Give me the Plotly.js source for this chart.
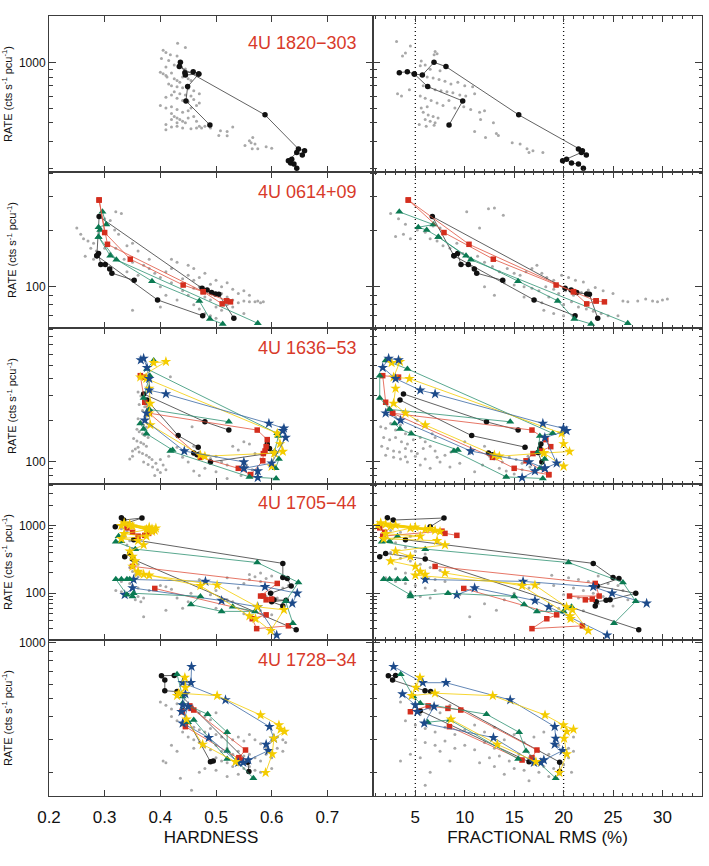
<!DOCTYPE html>
<html><head><meta charset="utf-8">
<script src="https://cdn.plot.ly/plotly-3.0.1.min.js"></script>
<style>body{margin:0;background:#fff}#chart{width:709px;height:866px}</style>
</head><body><div id="chart"></div>
<script>
// ---------- labels ----------
const SOURCES = ['4U 1820\u2212303', '4U 0614+09', '4U 1636\u221253', '4U 1705\u221244', '4U 1728\u221234'];
const HARD_TICKS = [0.2, 0.3, 0.4, 0.5, 0.6, 0.7];
const RMS_TICKS = [5, 10, 15, 20, 25, 30];
const RATE_TICKS = [100, 1000];
const RATE_TICKTEXT = ['100', '1000'];
const RATE_MINOR = [20,30,40,50,60,70,80,90,200,300,400,500,600,700,800,900,2000,3000,4000];
const RMS_MARKS = [5, 20];

// ---------- 4U 1820-303 ----------
const s1_blk_rate = [855,868,838,825,1000,937,451,269,262,245,255,225,230,217,214,201,null,838,692,557,387];
const s1_blk_hard = [0.444,0.459,0.469,0.445,0.436,0.434,0.588,0.648,0.659,0.655,0.645,0.630,0.636,0.634,0.640,0.645,null,0.469,0.449,0.446,0.489];
const s1_blk_rms  = [3.38,4.19,4.90,5.71,6.89,8.10,15.46,21.50,21.9,22.3,21.8,19.9,20.3,20.8,21.5,22.0,null,4.90,6.25,9.79,8.41];
const s1_gry_hard = [0.431,0.445,0.405,0.41,0.418,0.43,0.402,0.415,0.437,0.425,0.41,0.445,
 0.40,0.405,0.41,0.412,0.42,0.425,0.43,0.435,0.44,0.45,0.455,0.415,0.42,0.43,0.44,0.45,0.46,0.425,0.435,0.445,0.455,0.41,0.42,0.43,0.44,0.45,0.46,0.47,
 0.40,0.41,0.42,0.43,0.44,0.45,0.455,0.465,0.47,0.42,0.425,0.43,0.435,0.44,0.445,0.42,0.43,0.45,0.46,0.465,0.47,0.41,0.42,0.43,0.44,0.455,0.465,0.48,0.41,
 0.474,0.49,0.508,0.52,0.53,0.56,0.563,0.57,0.552,0.566,0.575,0.59,0.60,0.565,0.505,0.52];
const s1_gry_hrate = [1333,1250,1200,1160,1120,1100,1060,1030,1010,960,930,905,
 860,840,820,800,850,780,760,740,800,780,760,720,700,690,680,670,650,640,620,610,600,590,610,580,560,550,570,620,
 520,500,510,490,470,480,500,520,540,460,440,430,420,410,400,420,400,430,440,410,380,390,375,380,370,365,370,380,360,
 370,370,355,350,375,305,295,290,283,320,270,278,272,270,330,328];
const s1_gry_rms = [3.1,4.5,3.7,4.0,5.6,6.9,7.0,7.2,5.5,6.0,6.5,7.5,4.9,5.6,6.2,6.8,7.4,8.0,8.6,9.3,10.0,10.8,5.8,6.4,7.0,7.6,8.2,8.8,9.5,10.1,11.0,5.5,6.0,6.6,7.2,7.8,8.4,9.0,9.9,10.6,11.5,12.0,3.2,3.6,4.4,5.8,6.3,6.8,7.3,6.0,6.5,7.0,5.6,6.2,5.4,6.1,6.9,11.6,12.9,11.0,13.2,14.8,15.6,16.3,16.9,16.5,17.9,13.4,12.1];
const s1_gry_rrate = [1370,1280,1100,1150,1020,1120,1180,1140,950,960,900,880,850,820,800,790,770,750,720,740,700,690,700,680,660,650,640,630,610,600,620,600,580,560,540,520,560,500,510,490,470,480,620,600,660,470,450,440,430,420,410,400,500,510,390,380,385,420,400,350,340,295,290,270,262,255,255,330,320];

// ---------- 4U 0614+09 ----------
const s2_red_rate = [289,194,140,102,94,84,83,null,289,168,94,81,84];
const s2_red_hard = [0.290,0.300,0.346,0.441,0.477,0.519,0.526,null,0.290,0.305,0.477,0.511,0.519];
const s2_red_rms  = [4.29,7.90,12.89,19.24,21.0,23.29,24.13,null,4.29,10.43,21.0,22.34,23.29];
const s2_grn_rate = [250,214,207,200,184,146,107,84,67.3,63.3,null,184,139,63.8];
const s2_grn_hard = [0.296,0.303,0.289,0.292,0.289,0.310,0.385,0.470,0.489,0.512,null,0.289,0.321,0.575];
const s2_grn_rms  = [3.38,6.82,5.30,6.15,7.33,10.13,15.39,19.41,21.09,22.78,null,7.33,10.63,26.49];
const s2_blk_rate = [70,85,146,150,131,131,124,118,108,null,146,236,98,96,93,91.5,91,68];
const s2_blk_hard = [0.476,0.395,0.286,0.289,0.293,0.301,0.309,0.313,0.353,null,0.286,0.290,0.475,0.484,0.492,0.499,0.505,0.532];
const s2_blk_rms  = [21.16,17.01,8.91,9.28,9.62,10.36,10.97,11.21,13.84,null,8.91,6.72,20.15,20.76,21.33,22.34,22.61,23.45];
const s2_gry_hard = [0.25,0.257,0.262,0.27,0.28,0.29,0.30,0.31,0.32,0.33,0.318,0.325,0.275,0.285,0.30,0.31,0.265,0.28,0.32,0.34,
 0.35,0.36,0.335,0.35,0.37,0.34,0.36,0.38,0.39,0.40,0.41,0.42,0.43,0.40,0.42,0.44,0.45,0.46,0.47,0.48,
 0.46,0.44,0.45,0.46,0.47,0.48,0.49,0.50,0.51,0.52,0.53,0.48,0.49,0.50,0.51,0.52,0.53,0.54,0.55,0.56,
 0.50,0.51,0.52,0.53,0.54,0.55,0.56,0.57,0.575,0.58,0.585,0.46,0.47,0.48,0.49,0.50,0.55,0.43,0.41,0.35,
 0.40,0.45,0.42,0.38];
const s2_gry_hrate = [205,190,180,175,170,240,230,225,250,245,200,190,160,155,160,150,145,140,160,165,
 170,155,140,135,130,120,115,125,118,112,120,140,135,100,105,110,115,108,112,118,
 125,95,90,98,100,95,103,108,100,105,97,88,85,90,92,88,85,92,95,90,
 78,75,80,78,82,84,83,83,84,82,83,80,76,72,70,68,72,85,90,75,
 78,130,125,140];
const s2_gry_rms = [2.5,3.3,4.0,3.0,3.8,4.5,5.2,6.0,6.8,7.5,6.5,7.2,7.8,8.5,9.2,10.2,12.4,13.0,13.9,11.5,
 9.8,10.5,11.3,12.0,12.8,13.5,14.3,15.0,15.6,16.2,16.8,17.3,17.8,18.3,19.0,19.8,20.5,21.2,22.0,14.0,
 15.0,16.0,16.8,17.5,18.2,19.0,19.5,20.2,21.0,21.8,22.5,23.2,24.0,25.0,16.0,17.0,17.8,18.5,19.3,20.0,
 20.8,21.5,22.3,23.0,23.8,24.5,18.0,19.0,20.0,21.0,27.5,28.3,29.0,29.5,30.0,30.5,26.5,26.0,25.5,13.0,12.0];
const s2_gry_rrate = [245,230,215,185,190,180,200,195,210,205,180,175,165,160,170,250,260,262,240,205,
 150,140,145,135,128,120,125,118,115,120,125,130,118,112,108,115,112,108,106,105,
 102,100,98,95,100,97,92,95,90,93,96,99,95,92,88,85,82,88,85,80,
 83,78,76,74,72,70,75,72,70,68,84,86,84,83,85,86,83,84,70,90,100];

// ---------- 4U 1636-53 ----------
const s3_blk_rate = [310,195,170,null,280,155,128,null,135,125,117,100,null,116,113];
const s3_blk_hard = [0.370,0.480,0.523,null,0.376,0.432,0.468,null,0.592,0.596,0.605,0.490,null,0.460,0.466];
const s3_blk_rms  = [3.8,12.2,15.4,null,3.45,10.7,16.1,null,17.7,17.6,17.4,17.8,null,12.4,12.8];
const s3_red_rate = [410,420,270,225,170,145,129,120,115,102,81,null,225,108,90,81];
const s3_red_hard = [0.372,0.364,0.372,0.380,0.574,0.592,0.590,0.588,0.585,0.584,0.562,null,0.380,0.472,0.540,0.562];
const s3_red_rms  = [3.3,1.7,2.0,2.7,16.8,18.2,18.7,17.7,16.9,16.2,18.5,null,2.7,12.8,15.0,18.5];
const s3_grn_rate = [540,470,161,154,118,105,90,null,420,290,240,195,null,190,173,160,122,120,78,76];
const s3_grn_hard = [0.388,0.376,0.610,0.612,0.605,0.613,0.607,null,0.381,0.370,0.380,0.523,null,0.364,0.370,0.375,0.422,0.418,0.560,0.608];
const s3_grn_rms  = [2.0,4.2,18.9,17.6,17.4,18.1,17.6,null,1.4,1.4,2.4,14.6,null,2.9,3.45,4.6,9.3,8.9,14.2,17.9];
const s3_blu_rate = [545,560,480,400,330,310,190,175,168,150,98,90,86,77,null,225,200,120,100,90];
const s3_blu_hard = [0.365,0.370,0.376,0.380,0.380,0.410,0.595,0.622,0.620,0.625,0.600,0.550,0.575,0.575,null,0.375,0.372,0.443,0.550,0.550];
const s3_blu_rms  = [3.3,2.3,1.7,3.0,5.5,7.0,17.9,19.98,20.3,18.1,19.3,18.1,17.1,15.8,null,2.0,3.5,10.6,16.5,18.1];
const s3_yel_rate = [520,530,410,400,161,135,119,116,93,null,340,265,225,185,112,110,116];
const s3_yel_hard = [0.388,0.410,0.364,0.375,0.610,0.615,0.620,0.605,0.600,null,0.380,0.382,0.380,0.382,0.472,0.480,0.605];
const s3_yel_rms  = [2.6,3.45,2.8,4.4,19.8,20.0,20.6,18.0,20.0,null,3.0,2.8,4.0,6.0,13.0,13.5,18.0];
const s3_gry_hard = [0.36,0.365,0.37,0.362,0.372,0.368,0.375,0.36,0.365,0.37,0.375,0.358,0.362,0.368,0.372,0.378,0.352,0.358,0.365,0.37,
 0.375,0.36,0.355,0.35,0.362,0.368,0.375,0.38,0.385,0.37,0.378,0.386,0.395,0.392,0.40,0.405,0.41,0.40,0.39,0.415,
 0.42,0.43,0.44,0.45,0.457,0.46,0.47,0.48,0.49,0.50,0.51,0.52,0.48,0.46,0.47,0.50,0.53,0.54,0.55,0.56,
 0.57,0.58,0.555,0.565,0.575,0.545,0.52,0.418,0.35,0.345];
const s3_gry_hrate = [320,300,285,260,250,235,215,205,195,185,178,172,165,160,155,150,148,142,138,135,
 130,128,124,120,118,115,112,108,104,100,96,92,88,98,104,95,88,84,80,110,
 120,128,108,100,180,130,118,112,106,110,100,95,90,86,80,85,130,122,140,135,
 115,105,95,88,82,80,76,413,110,105];
const s3_gry_rms = [1.5,2.0,2.5,3.0,3.5,4.0,4.5,1.8,2.4,3.0,3.6,4.2,4.8,5.5,6.0,1.6,2.2,2.8,3.4,4.0,
 4.6,5.2,5.8,6.5,7.0,2.0,2.8,3.5,4.2,5.0,6.0,7.2,8.0,8.6,9.3,4.0,5.5,6.5,7.5,8.5,
 9.5,3.0,3.8,5.2,2.2,6.7,7.0,13.0,13.8,14.5,15.2,15.8,16.4,17.0,13.5,14.2,15.0,15.8,16.6,17.2,
 12.5,11.8,10.5,11.0,14.0,17.5,16.0,10.0,12.0];
const s3_gry_rrate = [180,175,190,170,185,160,165,150,145,150,140,135,145,150,140,130,125,120,118,125,
 120,115,125,130,120,112,108,105,100,110,105,108,112,118,125,109,95,90,100,92,
 98,210,230,200,240,160,150,105,100,108,104,98,110,115,90,86,82,88,92,85,
 110,95,115,85,78,120,125,140,130];

// ---------- 4U 1705-44 ----------
const s4_blk_rate = [1313,1213,1300,966,null,620,277,172,165,128,100,80,79,75,65,null,348,389,321,29];
const s4_blk_hard = [0.330,0.334,0.367,0.319,null,0.352,0.620,0.620,0.628,0.635,0.598,0.604,0.626,0.600,0.620,null,0.336,0.345,0.350,0.644];
const s4_blk_rms  = [2.17,2.77,7.9,6.5,null,4.0,23.0,25.0,25.6,23.4,27.3,24.7,24.3,23.3,23.2,null,1.4,2.0,6.0,27.6];
const s4_red_rate = [930,800,700,830,770,720,null,250,140,91,91,82,80,null,118,48,42,30,33];
const s4_red_hard = [0.340,0.350,0.360,0.385,0.379,0.372,null,0.350,0.610,0.580,0.585,0.600,0.590,null,0.390,0.590,0.565,0.573,0.630];
const s4_red_rms  = [1.4,1.9,1.7,7.7,8.0,9.2,null,7.0,23.2,23.6,20.6,22.9,22.2,null,9.9,19.3,18.3,16.8,21.9];
const s4_grn_rate = [700,590,580,450,285,145,76,36,null,162,162,162,162,95,90,100,90,68,54,54,63];
const s4_grn_hard = [0.325,0.330,0.320,0.355,0.574,0.648,0.625,0.638,null,0.345,0.340,0.330,0.320,0.340,0.350,0.352,0.472,0.455,0.510,0.570,0.530];
const s4_grn_rms  = [3.2,2.4,1.6,6.0,20.5,26.0,27.3,25.1,null,4.0,3.2,2.4,1.8,4.5,4.5,8.3,15.0,16.0,17.3,20.0,20.8];
const s4_blu_rate = [160,150,125,100,71,null,95,120,78,63,24];
const s4_blu_hard = [0.352,0.481,0.588,0.646,0.637,null,0.336,0.350,0.510,0.575,0.609];
const s4_blu_rms  = [6.0,15.9,23.0,24.9,28.4,null,9.2,11.0,17.1,18.5,24.4];
const s4_yel_rate = [1000,950,1050,900,1100,850,980,820,1020,880,920,760,700,640,600,520,420,350,300,250,210,190,185,132,63,57,28,42,null,200,129,46];
const s4_yel_hard = [0.330,0.380,0.345,0.385,0.335,0.390,0.350,0.385,0.345,0.375,0.392,0.335,0.375,0.330,0.360,0.370,0.345,0.350,0.355,0.350,0.360,0.370,0.380,0.502,0.574,0.622,0.598,0.571,null,0.360,0.472,0.560];
const s4_yel_rms  = [1.2,5.0,2.0,6.5,1.5,7.0,2.5,7.5,3.0,6.0,4.5,2.0,5.5,1.8,7.2,8.0,3.0,4.5,2.5,5.0,5.5,6.0,5.0,17.1,20.3,20.9,22.5,20.7,null,8.0,15.8,20.65];
const s4_gry_hard = [0.33,0.34,0.335,0.345,0.34,0.35,0.345,0.35,0.355,0.36,0.345,0.35,0.355,0.36,0.34,0.33,0.345,0.35,0.36,0.32,
 0.33,0.34,0.35,0.36,0.37,0.355,0.365,0.38,0.39,0.40,0.41,0.42,0.37,0.41,0.44,0.455,0.47,0.49,0.50,0.52,
 0.53,0.54,0.55,0.56,0.57,0.58,0.59,0.60,0.61,0.62,0.63,0.60,0.59,0.61,0.62,0.57,0.58,0.60,0.55,0.50,
 0.45,0.43,0.58,0.56,0.52,0.47];
const s4_gry_hrate = [900,820,700,600,520,460,400,340,300,270,240,210,190,175,165,150,140,130,120,110,
 105,100,95,90,85,80,75,110,120,130,125,115,45,56,60,100,90,95,110,80,
 75,120,140,160,175,150,165,180,140,120,130,100,90,85,70,65,55,48,50,60,
 75,85,200,190,170,160];
const s4_gry_rms = [1.5,2.5,3.5,4.5,2.0,3.0,4.0,5.0,6.0,2.5,3.5,4.5,5.5,6.5,7.5,3.0,4.0,5.0,6.0,7.0,
 8.0,2.0,3.0,4.0,5.0,6.0,7.0,8.5,9.5,4.5,5.5,6.5,10.5,13.2,18.8,20.5,21.5,22.5,23.5,24.5,
 25.5,21.0,22.0,23.0,24.0,20.0,21.5,23.5,25.0,26.5,19.5,22.0,16.5,15.0,14.0,12.0,17.5,11.0,19.0,26.0];
const s4_gry_rrate = [950,850,800,700,650,560,480,420,380,400,330,300,270,240,220,230,200,185,170,160,
 150,170,150,140,130,120,110,100,95,105,90,85,45,56,185,170,160,150,180,140,
 130,120,110,100,90,95,85,70,65,80,60,55,120,100,80,70,140,120,130,110];

// ---------- 4U 1728-34 ----------
const s5_blk_rate = [668,665,630,552,546,227,202,null,430,228,230];
const s5_blk_hard = [0.425,0.402,0.408,0.408,0.430,0.557,0.559,null,0.440,0.490,0.495];
const s5_blk_rms  = [3.0,2.27,2.7,5.98,6.55,19.6,19.6,null,5.5,16.5,16.9];
const s5_red_rate = [425,457,443,434,264,240,null,353,233];
const s5_red_hard = [0.439,0.453,0.455,0.460,0.553,0.541,null,0.445,0.545];
const s5_red_rms  = [4.5,6.3,8.3,9.6,17.3,16.8,null,8.45,15.8];
const s5_grn_rate = [677,513,472,412,329,261,186,null,373,384,236];
const s5_grn_hard = [0.430,0.440,0.440,0.485,0.520,0.520,0.567,null,0.450,0.460,0.520];
const s5_grn_rms  = [3.52,4.8,5.5,12.2,15.5,16.2,19.2,null,6.25,8.5,15.4];
const s5_blu_rate = [745,610,610,492,353,305,283,262,233,226,null,530,462,425,453,368,308,226];
const s5_blu_hard = [0.456,0.455,0.440,0.517,0.596,0.604,0.590,0.594,0.558,0.549,null,0.445,0.440,0.438,0.450,0.440,0.487,0.540];
const s5_blu_rms  = [2.8,5.75,8.1,14.6,19.1,19.2,19.1,19.9,18.0,17.7,null,3.7,5.0,5.2,6.9,5.9,12.9,17.0];
const s5_yel_rate = [650,574,519,535,519,408,360,341,332,305,251,199,null,387,283,228];
const s5_yel_hard = [0.444,0.445,0.430,0.433,0.502,0.580,0.613,0.616,0.623,0.604,0.601,0.589,null,0.447,0.476,0.535];
const s5_yel_rms  = [5.47,5.07,4.63,6.99,12.83,18.12,19.98,21.0,20.32,20.05,20.32,19.57,null,8.6,13.3,17.2];
const s5_gry_hard = [0.40,0.41,0.42,0.43,0.44,0.45,0.46,0.47,0.48,0.49,0.50,0.42,0.43,0.44,0.45,0.46,0.47,0.48,0.49,0.50,
 0.51,0.52,0.53,0.54,0.55,0.56,0.57,0.58,0.59,0.60,0.61,0.62,0.625,0.44,0.45,0.46,0.47,0.48,0.49,0.50,
 0.51,0.52,0.53,0.54,0.55,0.56,0.57,0.58,0.59,0.60,0.50,0.51,0.52,0.53,0.54,0.55,0.56,0.57,0.58,0.60,
 0.405,0.41,0.436,0.456,0.47,0.48,0.43,0.42,0.46,0.61,0.62,0.54,0.52,0.50];
const s5_gry_hrate = [480,460,440,470,430,455,440,420,400,385,420,400,380,360,370,350,340,330,345,320,
 310,330,300,310,295,320,300,285,270,300,310,300,290,330,310,300,290,275,265,280,
 260,270,250,260,245,250,240,230,250,240,240,230,225,215,220,210,215,205,200,210,
 230,225,186,160,200,210,260,280,270,270,260,195,190,205];
const s5_gry_rms = [3.5,4.5,5.5,6.5,7.5,8.5,9.5,4.0,5.0,6.0,7.0,8.0,9.0,10.0,11.0,12.0,13.0,5.0,6.0,7.0,
 8.0,9.0,10.0,11.0,12.0,13.0,14.0,15.0,16.0,17.0,18.0,19.0,20.0,21.0,19.5,20.5,17.5,18.5,16.5,15.5,
 14.5,13.5,12.5,11.5,17.0,18.0,19.0,20.0,20.8,19.5,18.5,17.5,16.0,15.0,14.0,13.0,6.5,5.5,4.5,3.5,
 7.5,8.5,6.0,16.5,20.5,21.0];
const s5_gry_rrate = [480,430,410,440,420,460,430,380,360,345,330,350,320,340,360,330,350,300,290,280,
 295,270,280,265,290,270,300,320,290,310,330,350,300,310,280,270,260,250,240,250,
 230,245,240,225,225,215,210,220,200,195,190,200,205,210,195,215,200,240,250,230,
 260,230,170,180,240,260];

// ---------- styling ----------
const STY = {
  blk: {color:'#111111', line:'#3a3a3a', symbol:'circle', size:5.5},
  red: {color:'#d42e1e', line:'#e0533f', symbol:'square', size:5.5},
  grn: {color:'#0b7a52', line:'#2f9272', symbol:'triangle-up', size:7},
  blu: {color:'#1c4a8a', line:'#3b68a3', symbol:'star', size:8},
  yel: {color:'#f4cc00', line:'#f4cc00', symbol:'star', size:8}
};
const GRAY = '#a8a8a8';
const ROW_YRANGE = [[2.278,3.305],[1.780,2.610],[1.841,2.9675],[1.309,3.617],[2.173,3.016]];
const LABEL_Y = [0.83, 0.87, 0.87, 0.88, 0.87];

const id = n => (n === 1 ? '' : String(n));
const traces = [];
function gray(row, hard, hrate, rms, rrate) {
  const l = 2*row - 1, r = 2*row;
  traces.push({x: hard, y: hrate, xaxis:'x'+id(l), yaxis:'y'+id(l), type:'scatter', mode:'markers',
    marker:{color:GRAY, size:3}, hoverinfo:'skip', showlegend:false});
  traces.push({x: rms, y: rrate, xaxis:'x'+id(r), yaxis:'y'+id(r), type:'scatter', mode:'markers',
    marker:{color:GRAY, size:3}, hoverinfo:'skip', showlegend:false});
}
function track(row, rate, hard, rms, s) {
  const st = STY[s];
  const l = 2*row - 1, r = 2*row;
  const common = {type:'scatter', mode:'lines+markers', showlegend:false, connectgaps:false,
    line:{color:st.line, width:0.8},
    marker:{color:st.color, symbol:st.symbol, size:st.size, line:{width:0}}};
  traces.push(Object.assign({x: hard, y: rate, xaxis:'x'+id(l), yaxis:'y'+id(l)}, common));
  traces.push(Object.assign({x: rms, y: rate, xaxis:'x'+id(r), yaxis:'y'+id(r)}, common));
}

gray(1, s1_gry_hard, s1_gry_hrate, s1_gry_rms, s1_gry_rrate);
track(1, s1_blk_rate, s1_blk_hard, s1_blk_rms, 'blk');

gray(2, s2_gry_hard, s2_gry_hrate, s2_gry_rms, s2_gry_rrate);
track(2, s2_blk_rate, s2_blk_hard, s2_blk_rms, 'blk');
track(2, s2_grn_rate, s2_grn_hard, s2_grn_rms, 'grn');
track(2, s2_red_rate, s2_red_hard, s2_red_rms, 'red');

gray(3, s3_gry_hard, s3_gry_hrate, s3_gry_rms, s3_gry_rrate);
track(3, s3_blk_rate, s3_blk_hard, s3_blk_rms, 'blk');
track(3, s3_red_rate, s3_red_hard, s3_red_rms, 'red');
track(3, s3_grn_rate, s3_grn_hard, s3_grn_rms, 'grn');
track(3, s3_yel_rate, s3_yel_hard, s3_yel_rms, 'yel');
track(3, s3_blu_rate, s3_blu_hard, s3_blu_rms, 'blu');

gray(4, s4_gry_hard, s4_gry_hrate, s4_gry_rms, s4_gry_rrate);
track(4, s4_blk_rate, s4_blk_hard, s4_blk_rms, 'blk');
track(4, s4_red_rate, s4_red_hard, s4_red_rms, 'red');
track(4, s4_blu_rate, s4_blu_hard, s4_blu_rms, 'blu');
track(4, s4_grn_rate, s4_grn_hard, s4_grn_rms, 'grn');
track(4, s4_yel_rate, s4_yel_hard, s4_yel_rms, 'yel');

gray(5, s5_gry_hard, s5_gry_hrate, s5_gry_rms, s5_gry_rrate);
track(5, s5_blk_rate, s5_blk_hard, s5_blk_rms, 'blk');
track(5, s5_red_rate, s5_red_hard, s5_red_rms, 'red');
track(5, s5_grn_rate, s5_grn_hard, s5_grn_rms, 'grn');
track(5, s5_blu_rate, s5_blu_hard, s5_blu_rms, 'blu');
track(5, s5_yel_rate, s5_yel_hard, s5_yel_rms, 'yel');

// ---------- layout ----------
const FONT = 'Liberation Sans, Arial, sans-serif';
const AXC = '#3c3c3c';
const layout = {
  width:709, height:866, showlegend:false,
  paper_bgcolor:'#ffffff', plot_bgcolor:'#ffffff',
  margin:{l:49, r:7, t:16, b:70},
  font:{family:FONT, color:'#111', size:12},
  annotations:[], shapes:[]
};
const XSPLIT = 0.4962;
for (let row = 1; row <= 5; row++) {
  const yd = [(5-row)*0.2, (6-row)*0.2];
  for (let c = 1; c <= 2; c++) {
    const n = 2*(row-1) + c;
    const xa = {
      domain: c === 1 ? [0, XSPLIT] : [XSPLIT, 1],
      anchor: 'y'+id(n), showline:true, linecolor:AXC, linewidth:1, mirror:'ticks',
      ticks:'inside', tickcolor:AXC, showgrid:false, zeroline:false,
      tickfont:{size:17, family:FONT, color:'#111'}, ticklabelstandoff:6,
      showticklabels: row === 5
    };
    if (c === 1) {
      Object.assign(xa, {range:[0.2, 0.782], tickmode:'array', tickvals:HARD_TICKS,
        ticktext:HARD_TICKS.map(v => v.toFixed(1)), ticklen:6});
    } else {
      Object.assign(xa, {range:[0.72, 34.0], tickmode:'array', tickvals:RMS_TICKS, ticklen:6,
        minor:{tickmode:'linear', tick0:0, dtick:1, ticks:'inside', ticklen:3, tickcolor:AXC, showgrid:false}});
    }
    if (row === 5) {
      xa.title = {text: c === 1 ? 'HARDNESS' : 'FRACTIONAL RMS (%)', font:{size:17, family:FONT, color:'#111'}, standoff:4};
    }
    const ya = {
      domain: yd, anchor: 'x'+id(n), type:'log', range: ROW_YRANGE[row-1],
      showline:true, linecolor:AXC, linewidth:1, mirror:'ticks', ticks:'inside', tickcolor:AXC,
      ticklen:7, showgrid:false, zeroline:false, tickmode:'array', tickvals:RATE_TICKS, ticktext:RATE_TICKTEXT,
      tickfont:{size:12, family:FONT, color:'#111'},
      minor:{tickmode:'array', tickvals:RATE_MINOR, ticks:'inside', ticklen:3.5, tickcolor:AXC, showgrid:false},
      showticklabels: c === 1
    };
    if (c === 1) {
      ya.title = {text:'RATE (cts s<sup>-1</sup> pcu<sup>-1</sup>)', font:{size:11, family:FONT, color:'#111'}, standoff:6};
    }
    layout['xaxis'+id(n)] = xa;
    layout['yaxis'+id(n)] = ya;
  }
  layout.annotations.push({
    text: SOURCES[row-1], xref:'x'+id(2*row-1)+' domain', yref:'y'+id(2*row-1)+' domain',
    x:0.957, y:LABEL_Y[row-1], xanchor:'right', yanchor:'middle', showarrow:false,
    font:{size:18, family:FONT, color:'#d83a2a'}
  });
}
RMS_MARKS.forEach(v => {
  layout.shapes.push({type:'line', xref:'x10', yref:'paper', x0:v, x1:v, y0:0, y1:1,
    line:{color:'#111', width:1.3, dash:'1px,3px'}, layer:'below'});
});

Plotly.newPlot('chart', traces, layout, {staticPlot:true, displayModeBar:false});
</script>
</body></html>
